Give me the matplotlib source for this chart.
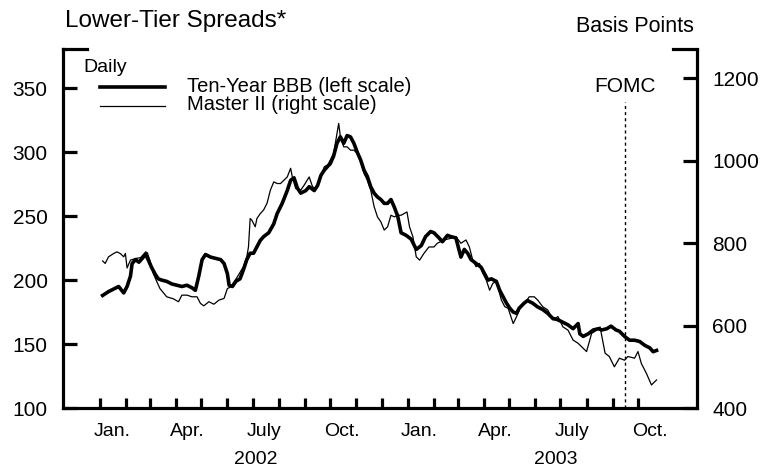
import numpy as np
import pandas as pd
import matplotlib
matplotlib.use("Agg")
import matplotlib.pyplot as plt
import matplotlib.dates as mdates
import matplotlib.transforms as mtransforms

plt.rcParams['font.family'] = ['Liberation Sans', 'DejaVu Sans']

# ---------------- data (days after 2002-01-01, values) ----------------
base_date = "2002-01-01"

bbb_days = [3, 10, 16, 22, 28, 32, 36, 38, 42, 46, 50, 54, 57, 61, 65, 69, 73, 79, 85, 91,
            97, 103, 109, 113, 117, 121, 125, 131, 137, 143, 147, 151, 153, 157, 161, 166, 170,
            174, 178, 182, 186, 190, 194, 200, 206, 210, 216, 222, 226, 230, 234, 238, 244, 248,
            254, 258, 262, 266, 270, 273, 277, 281, 285, 289, 293, 297, 301, 305, 309, 313, 317,
            321, 325, 329, 333, 337, 341, 345, 349, 353, 357, 363, 369, 375, 381, 386, 392, 396,
            402, 406, 412, 416, 422, 428, 432, 436, 440, 446, 452, 456, 460, 464, 470, 474, 478,
            482, 486, 490, 494, 497, 503, 507, 513, 519, 525, 531, 537, 543, 549, 555, 561, 567,
            569, 573, 579, 585, 591, 595, 601, 606, 612, 616, 622, 628, 634, 640, 646, 652, 656, 660]
bbb_vals = [188, 191, 193, 195, 190, 195, 203, 213, 216, 214, 217, 220, 216, 210, 205, 201, 200, 199, 197, 196,
            195, 196, 194, 192, 203, 216, 220, 218, 217, 216, 213, 205, 196, 195, 199, 201, 208,
            216, 221, 221, 226, 231, 234, 237, 244, 252, 260, 270, 278, 280, 272, 268, 270, 273,
            270, 274, 282, 286, 289, 291, 297, 307, 312, 307, 313, 312, 307, 300, 294, 286, 281,
            273, 268, 265, 263, 260, 260, 263, 257, 250, 237, 235, 232, 224, 227, 234, 238, 237,
            233, 230, 235, 234, 233, 218, 224, 221, 216, 213, 210, 205, 200, 201, 199, 192, 187,
            182, 178, 175, 174, 178, 182, 184, 182, 179, 177, 174, 170, 169, 167, 165, 162, 166,
            158, 156, 158, 161, 162, 161, 162, 164, 161, 160, 156, 153, 153, 152, 149, 147, 144, 145]

master_days = [3, 6, 10, 16, 20, 24, 28, 30, 32, 36, 42, 48, 54, 56, 59, 63, 67, 71, 79, 87,
               93, 97, 103, 109, 115, 119, 123, 129, 135, 141, 147, 151, 155, 163, 170, 174, 176,
               178, 180, 184, 186, 190, 194, 198, 202, 206, 210, 214, 218, 222, 226, 228, 232, 238,
               242, 248, 252, 256, 260, 266, 270, 273, 277, 281, 283, 285, 289, 293, 297, 301, 305,
               309, 313, 317, 321, 325, 329, 333, 337, 341, 345, 349, 353, 357, 364, 367, 371, 375,
               379, 384, 390, 396, 400, 408, 416, 422, 428, 434, 438, 442, 446, 450, 454, 458, 462,
               466, 470, 476, 480, 484, 490, 494, 499, 505, 509, 515, 519, 525, 531, 537, 543, 549,
               555, 561, 567, 573, 577, 583, 589, 593, 599, 604, 610, 616, 622, 626, 634, 638, 642,
               648, 654, 660]
master_vals = [757, 751, 767, 775, 779, 775, 767, 775, 740, 759, 763, 765, 779, 777, 759, 727, 708, 690, 670, 665,
               658, 674, 674, 670, 670, 654, 648, 658, 652, 662, 666, 690, 694, 719, 743, 767, 791,
               860, 856, 840, 860, 872, 881, 897, 929, 949, 945, 945, 953, 961, 982, 961, 933, 929,
               941, 961, 937, 933, 953, 986, 990, 1002, 1018, 1067, 1091, 1059, 1034, 1034, 1026, 1026, 1018,
               998, 970, 953, 929, 889, 864, 852, 832, 840, 868, 864, 868, 868, 876, 840, 816, 767,
               759, 775, 791, 791, 800, 808, 812, 816, 800, 808, 791, 759, 743, 751, 727, 711, 686,
               703, 707, 662, 646, 642, 605, 622, 646, 658, 670, 670, 662, 646, 638, 614, 622, 597,
               589, 565, 557, 545, 537, 581, 589, 597, 533, 525, 500, 521, 516, 525, 521, 537, 508,
               484, 456, 468]

left_ticks = [100, 150, 200, 250, 300, 350]
right_ticks = [400, 600, 800, 1000, 1200]
month_labels = {1: "Jan.", 4: "Apr.", 7: "July", 10: "Oct."}
year_labels = ["2002", "2003"]
fomc_date = "2003-09-16"

# ---------------- figure ----------------
t0 = pd.Timestamp(base_date)
bbb_dates = t0 + pd.to_timedelta(bbb_days, unit="D")
master_dates = t0 + pd.to_timedelta(master_days, unit="D")

W, H = 778, 473
fig = plt.figure(figsize=(W / 100, H / 100), dpi=100)
L, R, B, T = 63, 697, 408, 49.5
ax = fig.add_axes([L / W, 1 - B / H, (R - L) / W, (B - T) / H])
ax2 = ax.twinx()

ax.plot(bbb_dates, bbb_vals, color="black", lw=2.6, solid_joinstyle="round")
ax2.plot(master_dates, master_vals, color="black", lw=0.9)

ax.set_xlim(t0 - pd.Timedelta(days=44), t0 + pd.Timedelta(days=708))
ax.set_ylim(100, 380.3)
ax2.set_ylim(400, 1270.4)

lw_sp = 2.3
for a in (ax, ax2):
    a.spines["top"].set_visible(False)
    for s in ("left", "right", "bottom"):
        a.spines[s].set_linewidth(lw_sp)
ax.spines["right"].set_visible(False)
ax2.spines["left"].set_visible(False)
ax2.spines["bottom"].set_visible(False)

ax.set_yticks(left_ticks)
ax2.set_yticks(right_ticks)
ax.tick_params(axis="y", direction="in", length=10, width=lw_sp, labelsize=15, pad=11)
ax2.tick_params(axis="y", direction="in", length=10, width=lw_sp, labelsize=15, pad=11)

major = pd.date_range("2002-01-01", "2003-10-01", freq="MS")
ax.set_xticks(mdates.date2num(major))
ax.xaxis.set_major_formatter(plt.NullFormatter())
minor = [d + pd.Timedelta(days=14) for d in major if d.month in month_labels]
ax.set_xticks(mdates.date2num(minor), minor=True)
ax.set_xticklabels([month_labels[d.month] for d in minor], minor=True)
ax.tick_params(axis="x", which="major", direction="in", length=7, width=lw_sp)
ax.tick_params(axis="x", which="minor", length=0, pad=11, labelsize=14)

# top caps
cap = 24 / (R - L)
ax.plot([0, cap], [1, 1], transform=ax.transAxes, color="black", lw=lw_sp, clip_on=False,
        solid_capstyle="projecting")
ax.plot([1 - cap, 1], [1, 1], transform=ax.transAxes, color="black", lw=lw_sp, clip_on=False,
        solid_capstyle="projecting")

trans = mtransforms.blended_transform_factory(ax.transData, ax.transAxes)
for yl, dt in zip(year_labels, ["2002-07-05", "2003-06-26"]):
    ax.text(mdates.date2num(pd.Timestamp(dt)), -0.145, yl, transform=trans, ha="center",
            va="center", fontsize=14)

# FOMC line
fd = mdates.date2num(pd.Timestamp(fomc_date))
ax.plot([fd, fd], [0, (B - 102) / (B - T)], transform=trans, color="black", lw=1.0,
        ls=(0, (2.2, 2.2)))
ax.text(fd, (B - 87) / (B - T), "FOMC", transform=trans, ha="center", va="center", fontsize=15)

# legend (manual)
def ax_x(px):
    return (px - L) / (R - L)

def ax_y(py):
    return (B - py) / (B - T)

ax.text(ax_x(83), ax_y(68), "Daily", transform=ax.transAxes, ha="left", va="center", fontsize=14)
ax.plot([ax_x(100), ax_x(165)], [ax_y(87), ax_y(87)], transform=ax.transAxes, color="black", lw=2.6)
ax.plot([ax_x(100), ax_x(165)], [ax_y(106), ax_y(106)], transform=ax.transAxes, color="black", lw=0.9)
ax.text(ax_x(187), ax_y(86.5), "Ten-Year BBB (left scale)", transform=ax.transAxes, ha="left",
        va="center", fontsize=14.5)
ax.text(ax_x(187), ax_y(104.5), "Master II (right scale)", transform=ax.transAxes, ha="left",
        va="center", fontsize=14.5)

fig.text(65 / W, 1 - 27 / H, "Lower-Tier Spreads*", ha="left", va="baseline", fontsize=17.5)
fig.text(694 / W, 1 - 32 / H, "Basis Points", ha="right", va="baseline", fontsize=15.5)

fig.savefig("out.png", dpi=100)
